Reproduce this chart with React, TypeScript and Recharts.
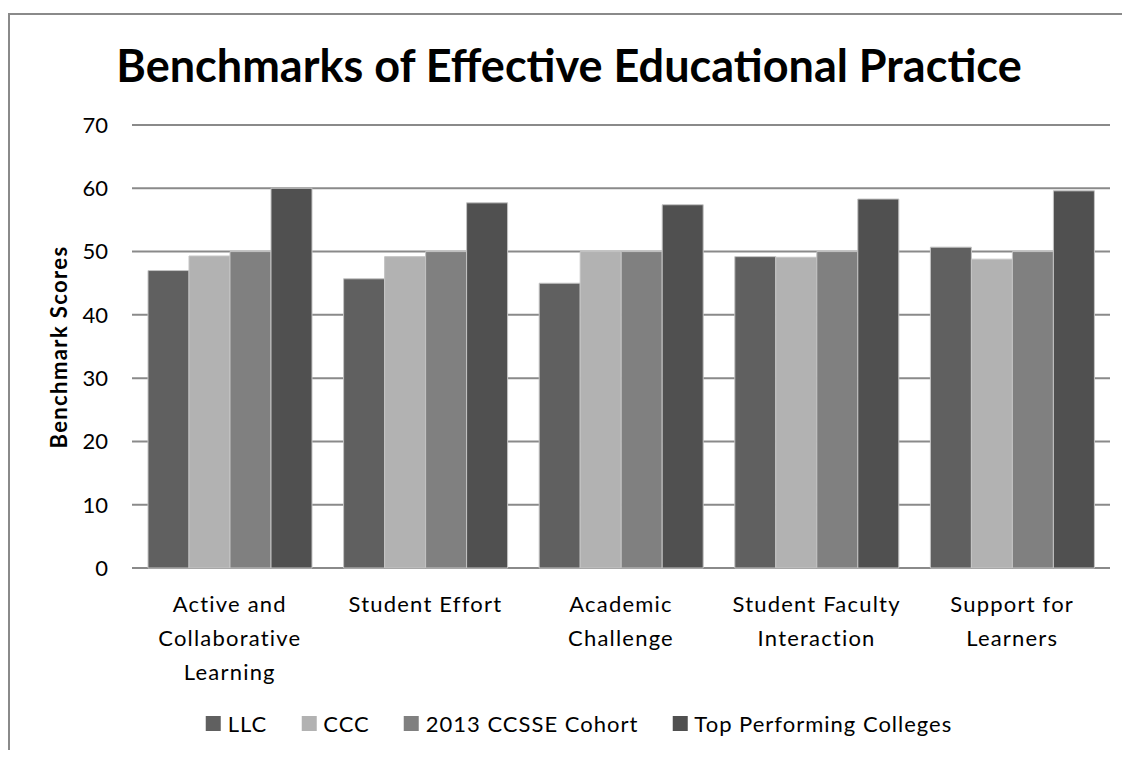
import { Bar, BarChart, CartesianGrid, XAxis, YAxis } from 'recharts';

const categories = [
  'Active and Collaborative Learning',
  'Student Effort',
  'Academic Challenge',
  'Student Faculty Interaction',
  'Support for Learners',
];

// how each category label wraps under the axis
const tickLines: Record<string, string[]> = {
  'Active and Collaborative Learning': ['Active and', 'Collaborative', 'Learning'],
  'Student Effort': ['Student Effort'],
  'Academic Challenge': ['Academic', 'Challenge'],
  'Student Faculty Interaction': ['Student Faculty', 'Interaction'],
  'Support for Learners': ['Support for', 'Learners'],
};

const llc = [47, 45.7, 45, 49.2, 50.7];
const ccc = [49.3, 49.2, 50, 49.1, 48.8];
const cohort = [50, 50, 50, 50, 50];
const topColleges = [60, 57.7, 57.4, 58.3, 59.6];

const yTicks = [0, 10, 20, 30, 40, 50, 60, 70];

const series = [
  { key: 'llc', name: 'LLC', color: '#606060' },
  { key: 'ccc', name: 'CCC', color: '#b2b2b2' },
  { key: 'cohort', name: '2013 CCSSE Cohort', color: '#808080' },
  { key: 'top', name: 'Top Performing Colleges', color: '#505050' },
];

const data = categories.map((name, i) => ({
  name,
  llc: llc[i],
  ccc: ccc[i],
  cohort: cohort[i],
  top: topColleges[i],
}));

const FONT = 'Lato, "Liberation Sans", sans-serif';

const CategoryTick = ({ x, y, payload }: any) => {
  const lines = tickLines[payload.value] || [payload.value];
  return (
    <text
      x={x}
      y={y}
      textAnchor="middle"
      fill="#000"
      fontSize={22}
      fontFamily={FONT}
      letterSpacing={1.2}
    >
      {lines.map((line, i) => (
        <tspan key={line} x={x} y={y + 42 + i * 34}>
          {line}
        </tspan>
      ))}
    </text>
  );
};

const App = () => (
  <div style={{ position: 'relative', width: 1114, height: 742, fontFamily: FONT }}>
    <div
      style={{
        position: 'absolute',
        left: 0,
        top: 5,
        width: 1122,
        height: 737,
        boxSizing: 'border-box',
        borderTop: '2px solid #8a8a8a',
        borderLeft: '2px solid #8a8a8a',
      }}
    />
    <BarChart
      width={1114}
      height={742}
      data={data}
      margin={{ top: 117, right: 12, left: 60, bottom: 52 }}
      barCategoryGap={16}
      barGap={0}
    >
      <CartesianGrid vertical={false} stroke="#8a8a8a" strokeWidth={2} />
      <XAxis
        dataKey="name"
        height={130}
        axisLine={false}
        tickLine={false}
        tickSize={0}
        interval={0}
        tick={<CategoryTick />}
      />
      <YAxis
        width={64}
        domain={[0, 70]}
        ticks={yTicks}
        axisLine={false}
        tickLine={false}
        tickSize={0}
        tickMargin={24}
        tick={{ fill: '#000', fontSize: 22, fontFamily: FONT }}
      />
      {series.map((s) => (
        <Bar
          key={s.key}
          dataKey={s.key}
          name={s.name}
          fill={s.color}
          stroke="#c4c4c4"
          strokeWidth={1}
          isAnimationActive={false}
        />
      ))}
    </BarChart>
    <svg
      width={1114}
      height={742}
      style={{ position: 'absolute', left: 0, top: 0, pointerEvents: 'none' }}
    >
      <text
        x={561}
        y={74}
        textAnchor="middle"
        fontSize={45}
        fontWeight="bold"
        fontFamily={FONT}
        fill="#000"
      >
        Benchmarks of Effective Educational Practice
      </text>
      <text
        transform="translate(59,339) rotate(-90)"
        textAnchor="middle"
        fontSize={22}
        fontWeight="bold"
        fontFamily={FONT}
        letterSpacing={1.4}
        fill="#000"
      >
        Benchmark Scores
      </text>
    </svg>
    <div
      style={{
        position: 'absolute',
        left: 571,
        top: 700,
        height: 30,
        transform: 'translateX(-50%)',
        display: 'flex',
        alignItems: 'center',
        whiteSpace: 'nowrap',
        fontSize: 22,
        letterSpacing: 1,
        color: '#000',
      }}
    >
      {series.map((s, i) => (
        <div
          key={s.key}
          style={{ display: 'flex', alignItems: 'center', marginLeft: i === 0 ? 0 : 34 }}
        >
          <span style={{ width: 15, height: 15, background: s.color, marginRight: 7 }} />
          <span>{s.name}</span>
        </div>
      ))}
    </div>
  </div>
);

export default App;
